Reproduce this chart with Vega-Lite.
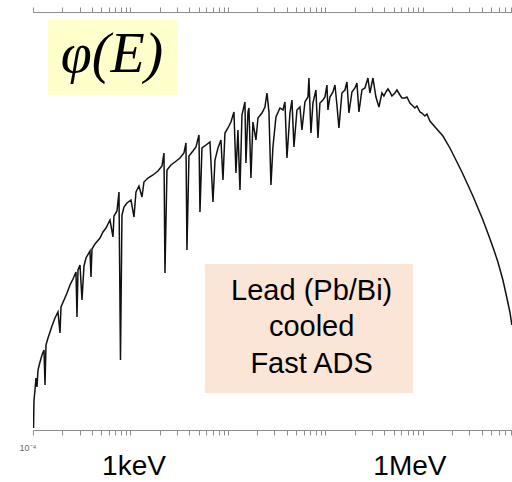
{
  "$schema": "https://vega.github.io/schema/vega-lite/v6.json",
  "width": 479,
  "height": 418,
  "autosize": {"type": "none"},
  "padding": {"left": 33, "top": 12, "right": 0, "bottom": 52},
  "background": "white",
  "config": {"view": {"stroke": null}},
  "datasets": {
    "spectrum": [
      {"E": 1.012e-4, "phi": 1.045e-4}, {"E": 1.024e-4, "phi": 1.937e-4}, {"E": 1.048e-4, "phi": 2.414e-4},
      {"E": 1.073e-4, "phi": 3.145e-4}, {"E": 1.099e-4, "phi": 2.579e-4}, {"E": 1.125e-4, "phi": 3.752e-4},
      {"E": 1.180e-4, "phi": 4.474e-4}, {"E": 1.237e-4, "phi": 5.221e-4}, {"E": 1.297e-4, "phi": 5.831e-4},
      {"E": 1.328e-4, "phi": 2.695e-4}, {"E": 1.359e-4, "phi": 6.507e-4}, {"E": 1.425e-4, "phi": 7.593e-4},
      {"E": 1.494e-4, "phi": 8.666e-4}, {"E": 1.566e-4, "phi": 9.890e-4}, {"E": 1.681e-4, "phi": 1.180e-3},
      {"E": 1.804e-4, "phi": 1.346e-3}, {"E": 1.892e-4, "phi": 8.477e-4}, {"E": 1.937e-4, "phi": 1.503e-3},
      {"E": 2.080e-4, "phi": 1.754e-3}, {"E": 2.233e-4, "phi": 2.046e-3}, {"E": 2.396e-4, "phi": 2.441e-3},
      {"E": 2.572e-4, "phi": 2.786e-3}, {"E": 2.761e-4, "phi": 3.251e-3}, {"E": 2.827e-4, "phi": 1.206e-3},
      {"E": 2.894e-4, "phi": 3.397e-3}, {"E": 3.034e-4, "phi": 3.793e-3}, {"E": 3.181e-4, "phi": 1.754e-3},
      {"E": 3.335e-4, "phi": 3.711e-3}, {"E": 3.496e-4, "phi": 4.425e-3}, {"E": 3.842e-4, "phi": 5.164e-3},
      {"E": 3.934e-4, "phi": 2.911e-3}, {"E": 4.028e-4, "phi": 5.397e-3}, {"E": 4.325e-4, "phi": 6.026e-3},
      {"E": 4.867e-4, "phi": 6.877e-3}, {"E": 5.224e-4, "phi": 7.846e-3}, {"E": 5.608e-4, "phi": 8.570e-3},
      {"E": 6.162e-4, "phi": 1.022e-2}, {"E": 6.614e-4, "phi": 7.030e-3}, {"E": 6.772e-4, "phi": 1.116e-2},
      {"E": 7.269e-4, "phi": 1.247e-2}, {"E": 7.622e-4, "phi": 1.895e-2}, {"E": 7.896e-4, "phi": 4.676e-4},
      {"E": 8.181e-4, "phi": 1.141e-2}, {"E": 8.577e-4, "phi": 1.361e-2}, {"E": 9.207e-4, "phi": 1.487e-2},
      {"E": 1.012e-3, "phi": 1.589e-2}, {"E": 1.086e-3, "phi": 1.092e-2}, {"E": 1.139e-3, "phi": 1.895e-2},
      {"E": 1.222e-3, "phi": 2.162e-2}, {"E": 1.312e-3, "phi": 1.697e-2}, {"E": 1.375e-3, "phi": 2.362e-2},
      {"E": 1.512e-3, "phi": 2.579e-2}, {"E": 1.701e-3, "phi": 2.755e-2}, {"E": 1.915e-3, "phi": 3.010e-2},
      {"E": 2.104e-3, "phi": 3.360e-2}, {"E": 2.206e-3, "phi": 4.474e-2}, {"E": 2.258e-3, "phi": 3.180e-3},
      {"E": 2.368e-3, "phi": 3.076e-2}, {"E": 2.602e-3, "phi": 3.435e-2}, {"E": 2.860e-3, "phi": 3.670e-2},
      {"E": 3.218e-3, "phi": 4.008e-2}, {"E": 3.538e-3, "phi": 4.474e-2}, {"E": 3.709e-3, "phi": 5.577e-2},
      {"E": 3.797e-3, "phi": 5.279e-3}, {"E": 3.981e-3, "phi": 4.188e-2}, {"E": 4.375e-3, "phi": 4.676e-2},
      {"E": 4.697e-3, "phi": 5.107e-2}, {"E": 5.042e-3, "phi": 6.653e-2}, {"E": 5.162e-3, "phi": 1.219e-2},
      {"E": 5.412e-3, "phi": 4.996e-2}, {"E": 5.948e-3, "phi": 5.337e-2}, {"E": 6.537e-3, "phi": 5.702e-2},
      {"E": 7.018e-3, "phi": 1.520e-2}, {"E": 7.357e-3, "phi": 3.834e-2}, {"E": 7.899e-3, "phi": 4.996e-2},
      {"E": 8.478e-3, "phi": 5.959e-2}, {"E": 8.887e-3, "phi": 2.468e-2}, {"E": 9.316e-3, "phi": 6.953e-2},
      {"E": 1.000e-2, "phi": 7.762e-2}, {"E": 1.073e-2, "phi": 8.858e-2}, {"E": 1.152e-2, "phi": 0.1104},
      {"E": 1.208e-2, "phi": 2.879e-2}, {"E": 1.266e-2, "phi": 7.427e-2}, {"E": 1.328e-2, "phi": 1.980e-2},
      {"E": 1.392e-2, "phi": 0.1034}, {"E": 1.494e-2, "phi": 0.1377}, {"E": 1.529e-2, "phi": 3.589e-2},
      {"E": 1.604e-2, "phi": 0.1104}, {"E": 1.642e-2, "phi": 0.1206}, {"E": 1.721e-2, "phi": 2.579e-2},
      {"E": 1.804e-2, "phi": 8.858e-2}, {"E": 1.937e-2, "phi": 5.959e-2}, {"E": 2.031e-2, "phi": 9.674e-2},
      {"E": 2.233e-2, "phi": 0.1080}, {"E": 2.396e-2, "phi": 0.1233}, {"E": 2.512e-2, "phi": 0.1679},
      {"E": 2.634e-2, "phi": 0.1104}, {"E": 2.761e-2, "phi": 2.211e-2}, {"E": 2.894e-2, "phi": 5.107e-2},
      {"E": 3.107e-2, "phi": 9.890e-2}, {"E": 3.415e-2, "phi": 0.1206}, {"E": 3.666e-2, "phi": 0.1154},
      {"E": 3.842e-2, "phi": 0.1377}, {"E": 4.028e-2, "phi": 4.008e-2}, {"E": 4.325e-2, "phi": 0.1080},
      {"E": 4.534e-2, "phi": 0.1438}, {"E": 4.753e-2, "phi": 5.107e-2}, {"E": 5.103e-2, "phi": 0.1154},
      {"E": 5.478e-2, "phi": 0.1233}, {"E": 5.741e-2, "phi": 7.427e-2}, {"E": 6.162e-2, "phi": 0.1377},
      {"E": 6.614e-2, "phi": 0.1537}, {"E": 6.772e-2, "phi": 0.2335}, {"E": 7.099e-2, "phi": 6.953e-2},
      {"E": 7.443e-2, "phi": 0.1346}, {"E": 7.989e-2, "phi": 0.1793}, {"E": 8.377e-2, "phi": 6.228e-2},
      {"E": 8.782e-2, "phi": 0.1346}, {"E": 9.427e-2, "phi": 0.1438}, {"E": 9.883e-2, "phi": 0.1537},
      {"E": 0.1036, "phi": 0.2001}, {"E": 0.1061, "phi": 0.1154}, {"E": 0.1112, "phi": 0.1537},
      {"E": 0.1194, "phi": 0.1716}, {"E": 0.1252, "phi": 0.2001}, {"E": 0.1312, "phi": 0.1288},
      {"E": 0.1375, "phi": 7.762e-2}, {"E": 0.1476, "phi": 0.1679}, {"E": 0.1585, "phi": 0.1793},
      {"E": 0.1662, "phi": 0.2138}, {"E": 0.1742, "phi": 0.1080}, {"E": 0.1870, "phi": 0.1716},
      {"E": 0.2007, "phi": 0.1874}, {"E": 0.2104, "phi": 0.2092}, {"E": 0.2206, "phi": 0.1104},
      {"E": 0.2368, "phi": 0.1793}, {"E": 0.2542, "phi": 0.1874}, {"E": 0.2729, "phi": 0.2335},
      {"E": 0.2860, "phi": 0.1679}, {"E": 0.3071, "phi": 0.2335}, {"E": 0.3296, "phi": 0.1537},
      {"E": 0.3538, "phi": 0.1233}, {"E": 0.3797, "phi": 0.1679}, {"E": 0.3981, "phi": 0.1571},
      {"E": 0.4174, "phi": 0.1716}, {"E": 0.4375, "phi": 0.1834}, {"E": 0.4586, "phi": 0.1716},
      {"E": 0.4808, "phi": 0.1571}, {"E": 0.5162, "phi": 0.1679}, {"E": 0.5412, "phi": 0.1793},
      {"E": 0.5808, "phi": 0.1606}, {"E": 0.6091, "phi": 0.1503}, {"E": 0.6537, "phi": 0.1503},
      {"E": 0.6853, "phi": 0.1537}, {"E": 0.7357, "phi": 0.1346}, {"E": 0.7711, "phi": 0.1288},
      {"E": 0.8279, "phi": 0.1206}, {"E": 0.8679, "phi": 0.1260}, {"E": 0.9316, "phi": 0.1104},
      {"E": 0.9766, "phi": 0.1080}, {"E": 1.048, "phi": 0.1011}, {"E": 1.099, "phi": 0.1057},
      {"E": 1.180, "phi": 9.056e-2}, {"E": 1.359, "phi": 7.762e-2}, {"E": 1.604, "phi": 6.507e-2},
      {"E": 1.892, "phi": 4.996e-2}, {"E": 2.181, "phi": 3.834e-2}, {"E": 2.512, "phi": 2.944e-2},
      {"E": 2.894, "phi": 2.211e-2}, {"E": 3.257, "phi": 1.735e-2}, {"E": 3.666, "phi": 1.331e-2},
      {"E": 4.126, "phi": 1.022e-2}, {"E": 4.753, "phi": 7.184e-3}, {"E": 5.349, "phi": 5.279e-3},
      {"E": 5.878, "phi": 4.052e-3}, {"E": 6.614, "phi": 2.725e-3}, {"E": 7.269, "phi": 1.834e-3},
      {"E": 7.805, "phi": 1.346e-3}, {"E": 8.18, "phi": 1.011e-3}
    ]
  },
  "resolve": {"axis": {"x": "independent"}},
  "layer": [
    {
      "data": {"values": [{"E1": 1.425e-4, "E2": 2.999e-3, "phi1": 0.8384, "phi2": 0.1606}]},
      "mark": {"type": "rect", "color": "#FFFFCC"},
      "encoding": {
        "x": {"field": "E1", "type": "quantitative",
              "scale": {"type": "log", "domain": [0.0001, 8.2], "nice": false},
              "axis": {"orient": "top", "title": null, "labels": false, "grid": false,
                       "values": [0.0001,0.0002,0.0003,0.0004,0.0005,0.0006,0.0007,0.0008,0.0009,0.001,0.002,0.003,0.004,0.005,0.006,0.007,0.008,0.009,0.01,0.02,0.03,0.04,0.05,0.06,0.07,0.08,0.09,0.1,0.2,0.3,0.4,0.5,0.6,0.7,0.8,0.9,1,2,3,4,5,6,7,8],
                       "tickSize": 5, "tickColor": "#8c8c8c", "domainColor": "#8c8c8c", "tickWidth": 1, "domainWidth": 1}},
        "x2": {"field": "E2"},
        "y": {"field": "phi1", "type": "quantitative",
              "scale": {"type": "log", "domain": [0.0001, 1], "nice": false},
              "axis": {"orient": "left", "title": null, "labels": false, "grid": false,
                       "values": [0.0001,0.0002,0.0003,0.0004,0.0005,0.0006,0.0007,0.0008,0.0009,0.001,0.002,0.003,0.004,0.005,0.006,0.007,0.008,0.009,0.01,0.02,0.03,0.04,0.05,0.06,0.07,0.08,0.09,0.1,0.2,0.3,0.4,0.5,0.6,0.7,0.8,0.9,1],
                       "tickSize": 6, "tickColor": "#8c8c8c", "domainColor": "#8c8c8c", "tickWidth": 1, "domainWidth": 1}},
        "y2": {"field": "phi2"}
      }
    },
    {
      "data": {"values": [{"E1": 5.810e-3, "E2": 0.7897, "phi1": 3.878e-3, "phi2": 2.259e-4}]},
      "mark": {"type": "rect", "color": "#FBE5D6"},
      "encoding": {
        "x": {"field": "E1", "type": "quantitative", "axis": null},
        "x2": {"field": "E2"},
        "y": {"field": "phi1", "type": "quantitative", "axis": null},
        "y2": {"field": "phi2"}
      }
    },
    {
      "data": {"name": "spectrum"},
      "mark": {"type": "line", "color": "#111111", "strokeWidth": 1.5, "clip": true},
      "encoding": {
        "x": {"field": "E", "type": "quantitative",
              "axis": {"orient": "bottom", "title": null, "labels": false, "grid": false,
                       "values": [0.0001,0.0002,0.0003,0.0004,0.0005,0.0006,0.0007,0.0008,0.0009,0.001,0.002,0.003,0.004,0.005,0.006,0.007,0.008,0.009,0.01,0.02,0.03,0.04,0.05,0.06,0.07,0.08,0.09,0.1,0.2,0.3,0.4,0.5,0.6,0.7,0.8,0.9,1,2,3,4,5,6,7,8],
                       "tickSize": 5, "tickColor": "#8c8c8c", "domainColor": "#8c8c8c", "tickWidth": 1, "domainWidth": 1}},
        "y": {"field": "phi", "type": "quantitative", "axis": null}
      }
    },
    {
      "data": {"values": [{"E": 6.461e-4, "phi": 0.2666, "label": "φ(E)"}]},
      "mark": {"type": "text", "font": "Liberation Serif", "fontStyle": "italic", "fontSize": 56, "align": "center", "baseline": "alphabetic", "color": "#000000"},
      "encoding": {
        "x": {"field": "E", "type": "quantitative", "axis": null},
        "y": {"field": "phi", "type": "quantitative", "axis": null},
        "text": {"field": "label"}
      }
    },
    {
      "data": {"values": [{"E": 7.221e-2, "phi": 1.754e-3, "label": ["Lead (Pb/Bi)", "cooled", "Fast ADS"]}]},
      "mark": {"type": "text", "font": "Liberation Sans", "fontSize": 29, "lineHeight": 36.5, "align": "center", "baseline": "alphabetic", "color": "#000000"},
      "encoding": {
        "x": {"field": "E", "type": "quantitative", "axis": null},
        "y": {"field": "phi", "type": "quantitative", "axis": null},
        "text": {"field": "label"}
      }
    },
    {
      "data": {"values": [{"E": 1.086e-3, "label": "1keV"}, {"E": 0.7357, "label": "1MeV"}]},
      "mark": {"type": "text", "font": "Liberation Sans", "fontSize": 28, "align": "center", "baseline": "alphabetic", "dy": 45, "color": "#000000"},
      "encoding": {
        "x": {"field": "E", "type": "quantitative", "axis": null},
        "y": {"datum": 0.0001, "type": "quantitative", "axis": null},
        "text": {"field": "label"}
      }
    },
    {
      "data": {"values": [{"E": 0.0001, "label": "10⁻⁴"}]},
      "mark": {"type": "text", "font": "Liberation Sans", "fontSize": 9, "align": "center", "baseline": "alphabetic", "dx": -5, "dy": 21, "color": "#666666"},
      "encoding": {
        "x": {"field": "E", "type": "quantitative", "axis": null},
        "y": {"datum": 0.0001, "type": "quantitative", "axis": null},
        "text": {"field": "label"}
      }
    }
  ]
}
